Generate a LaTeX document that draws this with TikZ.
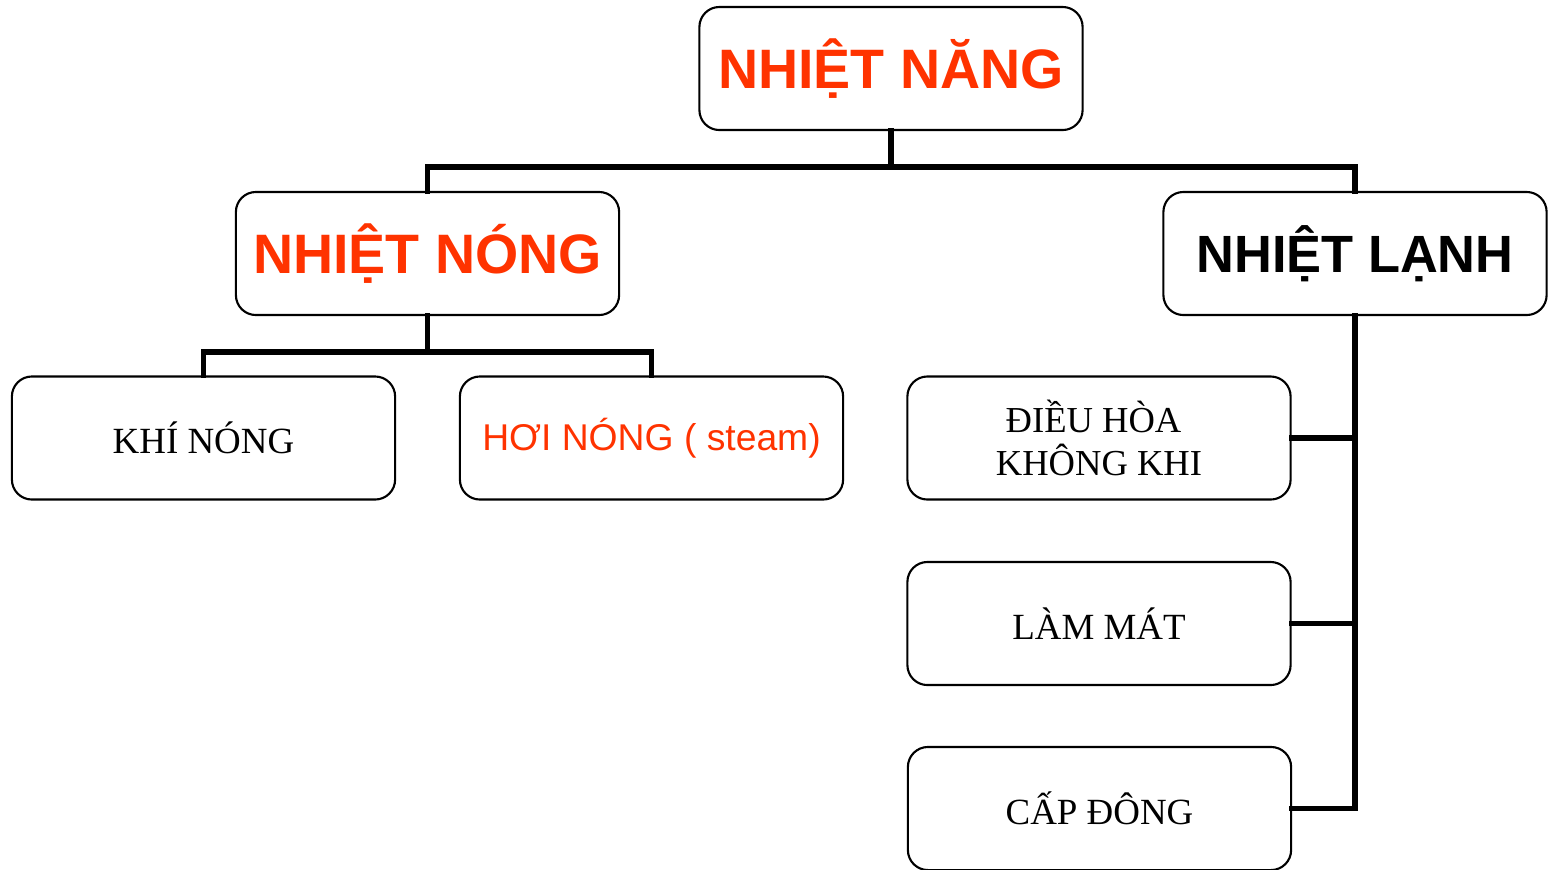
\documentclass[tikz,border=0pt]{standalone}
\usepackage{fontspec}
\setmainfont{Liberation Serif}
\setsansfont{Liberation Sans}
\definecolor{hot}{HTML}{FF3300}
\begin{document}
\begin{tikzpicture}[x=0.01cm,y=-0.01cm,
  box/.style={draw=black,line width=0.6pt,rounded corners=0.2cm,fill=white,
    minimum width=3.83cm,minimum height=1.23cm,inner sep=0pt,align=center},
  big/.style={box,font=\sffamily\bfseries\fontsize{15.8}{18}\selectfont},
  small/.style={box,font=\fontsize{10.5}{12.3}\selectfont},
  link/.style={line width=1.6pt,line cap=rect}]
\useasboundingbox (0,0) rectangle (1552,869);
\node[big,text=hot] (nang) at (891,68.5) {NHIỆT NĂNG};
\node[big,text=hot] (nong) at (427.5,253.5) {NHIỆT NÓNG};
\node[big,font=\sffamily\bfseries\fontsize{14.9}{18}\selectfont] (lanh) at (1355,253.5) {NHIỆT LẠNH};
\node[small] (khi) at (203.5,438) {KHÍ NÓNG};
\node[box,text=hot,font=\sffamily\fontsize{10.6}{12}\selectfont] (hoi) at (651.5,438) {\raisebox{-0.85pt}{HƠI NÓNG ( steam)}};
\node[small,font=\fontsize{10.4}{12.3}\selectfont] (dieu) at (1099,438) {ĐIỀU HÒA\kern0.3em\\KHÔNG KHI};
\node[small] (lam) at (1099,623.5) {LÀM MÁT};
\node[small] (cap) at (1099.5,808.5) {CẤP ĐÔNG};
\coordinate (j1) at (891,167);
\coordinate (j2) at (427.5,352);
\draw[link] (nang.south) -- (j1);
\draw[link] (nong.north) |- (j1) -| (lanh.north);
\draw[link] (nong.south) -- (j2);
\draw[link] (khi.north) |- (j2) -| (hoi.north);
\draw[link] (lanh.south) |- (cap.east);
\draw[link] (dieu.east) -- (dieu.east -| lanh.south);
\draw[link] (lam.east) -- (lam.east -| lanh.south);
\end{tikzpicture}
\end{document}
